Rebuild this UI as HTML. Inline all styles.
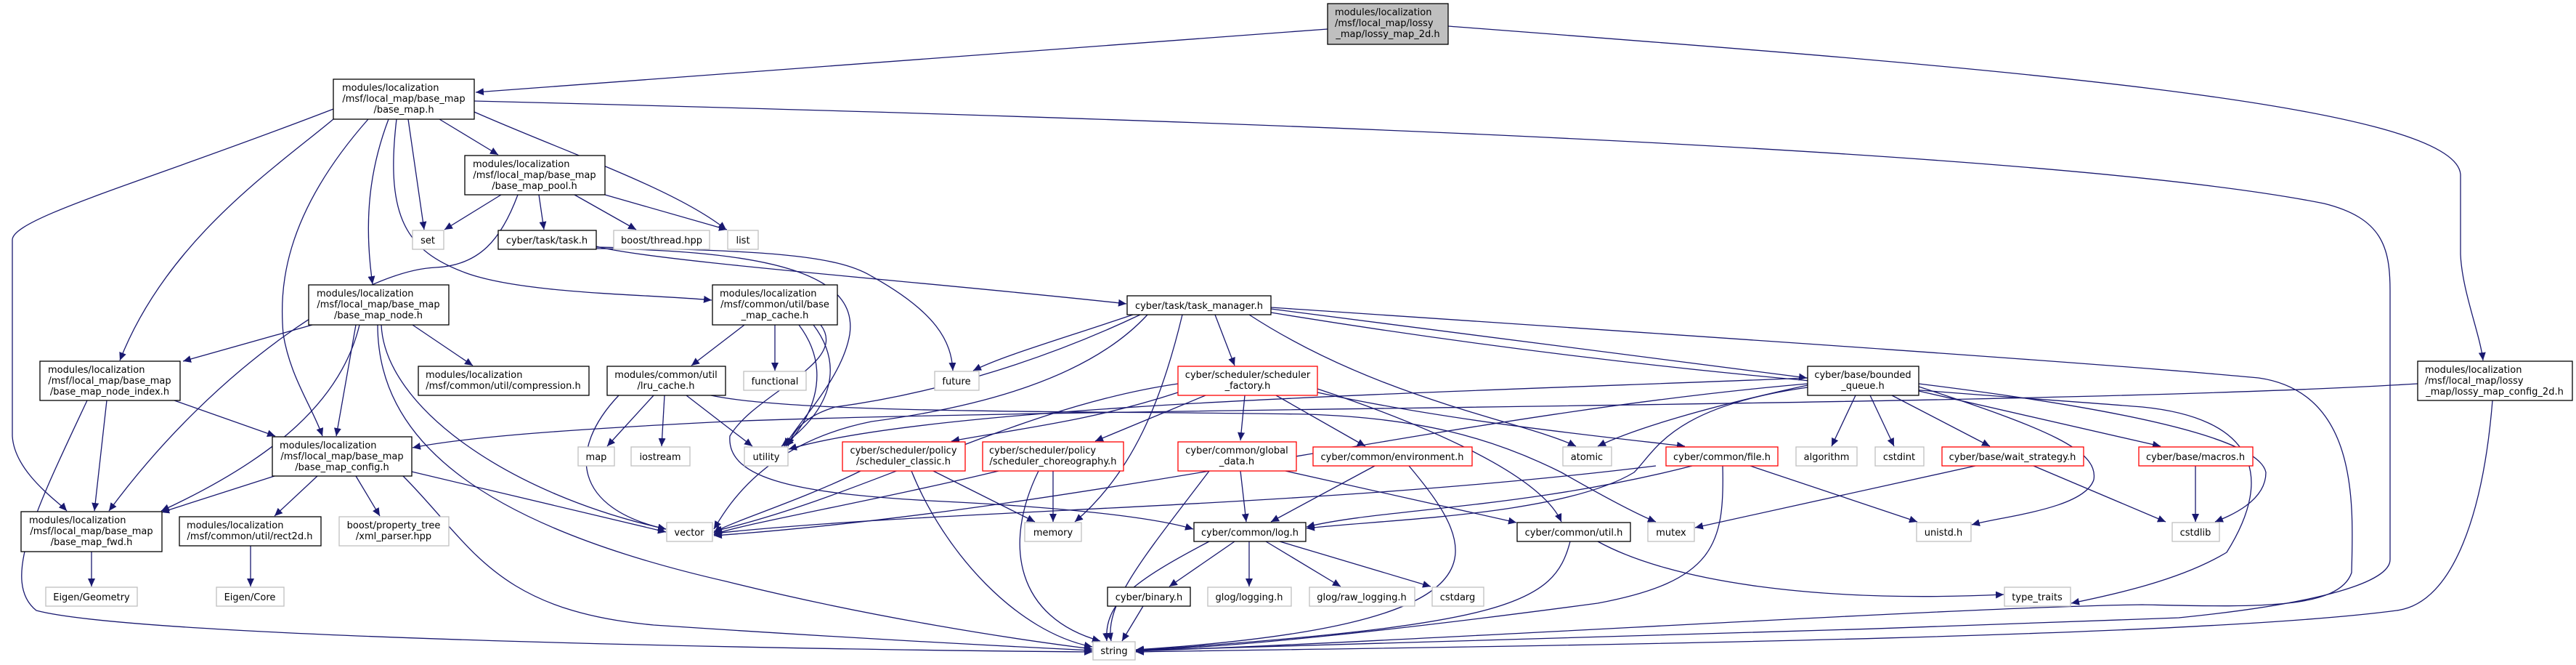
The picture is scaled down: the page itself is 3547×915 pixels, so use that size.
<!DOCTYPE html>
<html><head><meta charset="utf-8"><style>
html,body{margin:0;padding:0;background:#fff;}
svg{display:block;}
text{font-family:"DejaVu Sans","Liberation Sans",sans-serif;font-size:13px;fill:#000;}
.e{fill:none;stroke:#191970;stroke-width:1.3;}
.b{fill:#fff;stroke:#000;stroke-width:1.3;}
.g{fill:#fff;stroke:#bfbfbf;stroke-width:1.3;}
.r{fill:#fff;stroke:#ff0000;stroke-width:1.3;}
</style></head><body>
<svg width="3547" height="915" viewBox="0 0 3547 915" xmlns="http://www.w3.org/2000/svg">
<defs><marker id="a" markerUnits="userSpaceOnUse" markerWidth="12" markerHeight="10" refX="11" refY="5" orient="auto"><path d="M0,0 L11,5 L0,10 z" fill="#191970"/></marker></defs>
<g class="e" marker-end="url(#a)">
<path d="M1828,40 L655,127"/>
<path d="M1994,36 C2700,90 3380,140 3388,240 L3388,350 C3390,400 3415,460 3419,496"/>
<path d="M605,164 L686,213"/>
<path d="M562,164 L584,316"/>
<path d="M653,154 C780,210 930,260 1000,316"/>
<path d="M535,164 C510,230 500,300 513,391"/>
<path d="M546,164 C530,300 560,345 640,375 S900,405 980,413"/>
<path d="M459,164 C380,230 230,330 165,496"/>
<path d="M459,150 C200,250 17,300 17,330 L17,600 C20,650 80,690 92,703"/>
<path d="M507,164 C387,300 385,400 390,460 C400,520 430,560 444,600"/>
<path d="M653,139 C1500,160 2800,200 3200,280 C3280,300 3291,340 3291,400 L3291,770 C3291,800 3200,830 3000,850 C2500,870 1900,885 1564,895"/>
<path d="M690,268 L612,316"/>
<path d="M742,268 L749,316"/>
<path d="M791,268 L876,316"/>
<path d="M833,268 L1001,316"/>
<path d="M713,268 C690,330 660,365 600,368 C500,372 300,500 150,703"/>
<path d="M821,339 C900,360 1300,390 1551,418"/>
<path d="M821,340 C1050,345 1150,350 1200,380 C1290,430 1310,470 1312,510"/>
<path d="M821,342 C1100,345 1180,390 1170,460 C1160,520 1100,580 1080,614"/>
<path d="M430,447 L252,497"/>
<path d="M490,447 L463,600"/>
<path d="M568,447 L651,503"/>
<path d="M495,447 C470,550 380,630 222,703"/>
<path d="M525,447 C530,560 700,680 917,728"/>
<path d="M520,447 C520,600 650,720 1000,800 C1200,850 1400,880 1504,893"/>
<path d="M1025,447 L952,503"/>
<path d="M1067,447 L1067,510"/>
<path d="M1100,447 C1140,500 1130,560 1082,614"/>
<path d="M1120,447 C1160,500 1150,560 1076,614"/>
<path d="M1130,447 C1170,500 1040,540 1005,600 C1000,660 1100,680 1300,690 C1500,700 1600,715 1643,728"/>
<path d="M900,544 L836,614"/>
<path d="M915,544 L911,614"/>
<path d="M945,544 L1036,614"/>
<path d="M852,544 C780,620 790,700 917,728"/>
<path d="M979,544 C1100,570 1500,565 1800,570 C1950,575 2050,600 2150,650 C2220,690 2260,710 2280,718"/>
<path d="M1560,433 C1450,470 1380,490 1340,510"/>
<path d="M1570,433 C1450,490 1300,540 1150,560 C1100,575 1090,600 1085,614"/>
<path d="M1580,433 C1500,520 1350,560 1200,580 C1050,610 1000,700 983,728"/>
<path d="M1628,433 C1600,550 1560,650 1480,718"/>
<path d="M1673,433 L1700,503"/>
<path d="M1720,433 C1900,550 2100,580 2170,614"/>
<path d="M1750,425 L2488,520"/>
<path d="M1750,423 C2300,460 2900,500 3110,520 C3250,540 3240,700 3238,788 C3220,840 3100,835 2950,832 C2700,835 2000,880 1564,896"/>
<path d="M1750,430 C2300,520 2700,540 2950,560 C3100,575 3135,650 3066,760 C3000,800 2900,820 2852,830"/>
<path d="M1622,540 C1500,580 1400,590 1310,607"/>
<path d="M1660,544 L1508,607"/>
<path d="M1714,544 L1708,606"/>
<path d="M1757,544 L1880,614"/>
<path d="M1814,535 C1950,580 2120,650 2150,718"/>
<path d="M1814,540 C2000,580 2200,600 2320,614"/>
<path d="M1622,528 C1400,560 1200,680 983,731"/>
<path d="M1185,648 C1100,690 1000,720 983,733"/>
<path d="M1285,648 L1425,718"/>
<path d="M1255,648 C1300,760 1400,870 1504,890"/>
<path d="M1375,648 C1200,690 1000,725 983,736"/>
<path d="M1450,648 L1450,718"/>
<path d="M1430,648 C1380,750 1400,850 1515,882"/>
<path d="M1665,648 C1580,760 1520,830 1530,882"/>
<path d="M1708,648 L1716,718"/>
<path d="M1770,648 L2088,719"/>
<path d="M1893,641 L1750,718"/>
<path d="M1940,641 C2040,760 2090,860 1564,894"/>
<path d="M2280,641 C1800,700 1300,700 983,734"/>
<path d="M2330,641 C2100,700 1900,700 1799,725"/>
<path d="M2410,641 L2640,718"/>
<path d="M2372,641 C2375,750 2360,800 2200,830 C1900,870 1700,890 1564,895"/>
<path d="M2489,520 C2000,540 1300,555 1086,618"/>
<path d="M2489,528 C2000,570 1500,700 983,737"/>
<path d="M2489,530 C2350,560 2250,590 2200,614"/>
<path d="M2489,533 C2300,560 2280,620 2250,650 C2150,710 1900,715 1799,727"/>
<path d="M2555,544 L2522,614"/>
<path d="M2575,544 L2608,614"/>
<path d="M2605,544 L2740,614"/>
<path d="M2642,538 L2975,614"/>
<path d="M2642,532 C2820,590 2890,620 2883,660 C2870,700 2760,710 2715,722"/>
<path d="M2642,528 C2900,560 3110,600 3120,650 C3120,690 3070,710 3050,718"/>
<path d="M2720,641 L2334,726"/>
<path d="M2800,641 L2982,718"/>
<path d="M3023,641 L3023,718"/>
<path d="M1700,745 L1610,807"/>
<path d="M1720,745 L1720,807"/>
<path d="M1743,745 L1846,807"/>
<path d="M1762,745 L1970,807"/>
<path d="M1665,745 C1560,800 1520,830 1524,882"/>
<path d="M2162,745 C2140,830 2080,860 1564,895"/>
<path d="M2200,745 C2300,800 2500,830 2759,818"/>
<path d="M1574,834 L1545,882"/>
<path d="M3329,528 C2800,560 1500,560 1000,580 C800,590 650,600 568,616"/>
<path d="M3432,551 C3420,700 3380,830 3300,840 C3000,880 2000,890 1564,897"/>
<path d="M240,551 L379,600"/>
<path d="M147,551 L130,703"/>
<path d="M120,551 C50,700 0,800 50,840 C200,880 1200,895 1504,897"/>
<path d="M378,655 L222,705"/>
<path d="M437,655 L378,710"/>
<path d="M490,655 L523,710"/>
<path d="M567,649 L917,732"/>
<path d="M555,655 C650,750 680,840 900,860 C1200,880 1400,890 1504,895"/>
<path d="M126,759 L126,807"/>
<path d="M345,751 L345,807"/>
</g>
<rect x="1828" y="5" width="166" height="56" fill="#bfbfbf" stroke="#000" stroke-width="1.3"/>
<text x="1838" y="21">modules/localization</text><text x="1838" y="36">/msf/local_map/lossy</text><text x="1911" y="51" text-anchor="middle">_map/lossy_map_2d.h</text>
<rect class="b" x="459" y="109" width="194" height="55"/>
<text x="471" y="125">modules/localization</text><text x="556" y="140" text-anchor="middle">/msf/local_map/base_map</text><text x="556" y="155" text-anchor="middle">/base_map.h</text>
<rect class="b" x="640" y="214" width="193" height="54"/>
<text x="651" y="230">modules/localization</text><text x="736" y="245" text-anchor="middle">/msf/local_map/base_map</text><text x="736" y="260" text-anchor="middle">/base_map_pool.h</text>
<rect class="g" x="568" y="317" width="43" height="26"/><text x="589" y="335" text-anchor="middle">set</text>
<rect class="b" x="686" y="317" width="135" height="26"/><text x="753" y="335" text-anchor="middle">cyber/task/task.h</text>
<rect class="g" x="845" y="317" width="132" height="26"/><text x="911" y="335" text-anchor="middle">boost/thread.hpp</text>
<rect class="g" x="1002" y="317" width="42" height="26"/><text x="1023" y="335" text-anchor="middle">list</text>
<rect class="b" x="425" y="392" width="193" height="55"/>
<text x="436" y="408">modules/localization</text><text x="521" y="423" text-anchor="middle">/msf/local_map/base_map</text><text x="521" y="438" text-anchor="middle">/base_map_node.h</text>
<rect class="b" x="981" y="392" width="172" height="55"/>
<text x="991" y="408">modules/localization</text><text x="1067" y="423" text-anchor="middle">/msf/common/util/base</text><text x="1067" y="438" text-anchor="middle">_map_cache.h</text>
<rect class="b" x="1552" y="407" width="198" height="26"/><text x="1651" y="425" text-anchor="middle">cyber/task/task_manager.h</text>
<rect class="b" x="55" y="497" width="193" height="54"/>
<text x="66" y="513">modules/localization</text><text x="151" y="528" text-anchor="middle">/msf/local_map/base_map</text><text x="151" y="543" text-anchor="middle">/base_map_node_index.h</text>
<rect class="b" x="576" y="504" width="235" height="40"/><text x="586" y="520">modules/localization</text><text x="693" y="535" text-anchor="middle">/msf/common/util/compression.h</text>
<rect class="b" x="836" y="504" width="163" height="40"/><text x="917" y="520" text-anchor="middle">modules/common/util</text><text x="917" y="535" text-anchor="middle">/lru_cache.h</text>
<rect class="g" x="1024" y="511" width="86" height="26"/><text x="1067" y="529" text-anchor="middle">functional</text>
<rect class="g" x="1287" y="511" width="61" height="26"/><text x="1317" y="529" text-anchor="middle">future</text>
<rect class="r" x="1622" y="504" width="192" height="40"/><text x="1718" y="520" text-anchor="middle">cyber/scheduler/scheduler</text><text x="1718" y="535" text-anchor="middle">_factory.h</text>
<rect class="b" x="2489" y="504" width="153" height="40"/><text x="2565" y="520" text-anchor="middle">cyber/base/bounded</text><text x="2565" y="535" text-anchor="middle">_queue.h</text>
<rect class="b" x="3329" y="497" width="213" height="54"/>
<text x="3339" y="513">modules/localization</text><text x="3339" y="528">/msf/local_map/lossy</text><text x="3435" y="543" text-anchor="middle">_map/lossy_map_config_2d.h</text>
<rect class="b" x="375" y="601" width="192" height="54"/>
<text x="385" y="617">modules/localization</text><text x="471" y="632" text-anchor="middle">/msf/local_map/base_map</text><text x="471" y="647" text-anchor="middle">/base_map_config.h</text>
<rect class="g" x="796" y="615" width="50" height="26"/><text x="821" y="633" text-anchor="middle">map</text>
<rect class="g" x="869" y="615" width="81" height="26"/><text x="909" y="633" text-anchor="middle">iostream</text>
<rect class="g" x="1025" y="615" width="60" height="26"/><text x="1055" y="633" text-anchor="middle">utility</text>
<rect class="r" x="1160" y="608" width="169" height="40"/><text x="1244" y="624" text-anchor="middle">cyber/scheduler/policy</text><text x="1244" y="639" text-anchor="middle">/scheduler_classic.h</text>
<rect class="r" x="1353" y="608" width="194" height="40"/><text x="1362" y="624">cyber/scheduler/policy</text><text x="1450" y="639" text-anchor="middle">/scheduler_choreography.h</text>
<rect class="r" x="1622" y="608" width="163" height="40"/><text x="1703" y="624" text-anchor="middle">cyber/common/global</text><text x="1703" y="639" text-anchor="middle">_data.h</text>
<rect class="r" x="1808" y="615" width="219" height="26"/><text x="1917" y="633" text-anchor="middle">cyber/common/environment.h</text>
<rect class="g" x="2152" y="615" width="67" height="26"/><text x="2185" y="633" text-anchor="middle">atomic</text>
<rect class="r" x="2294" y="615" width="154" height="26"/><text x="2371" y="633" text-anchor="middle">cyber/common/file.h</text>
<rect class="g" x="2473" y="615" width="84" height="26"/><text x="2515" y="633" text-anchor="middle">algorithm</text>
<rect class="g" x="2582" y="615" width="67" height="26"/><text x="2615" y="633" text-anchor="middle">cstdint</text>
<rect class="r" x="2674" y="615" width="195" height="26"/><text x="2771" y="633" text-anchor="middle">cyber/base/wait_strategy.h</text>
<rect class="r" x="2945" y="615" width="157" height="26"/><text x="3023" y="633" text-anchor="middle">cyber/base/macros.h</text>
<rect class="b" x="29" y="704" width="194" height="55"/>
<text x="40" y="720">modules/localization</text><text x="126" y="735" text-anchor="middle">/msf/local_map/base_map</text><text x="126" y="750" text-anchor="middle">/base_map_fwd.h</text>
<rect class="b" x="247" y="711" width="195" height="40"/><text x="257" y="727">modules/localization</text><text x="344" y="742" text-anchor="middle">/msf/common/util/rect2d.h</text>
<rect class="g" x="467" y="711" width="151" height="40"/><text x="542" y="727" text-anchor="middle">boost/property_tree</text><text x="542" y="742" text-anchor="middle">/xml_parser.hpp</text>
<rect class="g" x="918" y="719" width="63" height="26"/><text x="949" y="737" text-anchor="middle">vector</text>
<rect class="g" x="1411" y="719" width="78" height="26"/><text x="1450" y="737" text-anchor="middle">memory</text>
<rect class="b" x="1644" y="719" width="154" height="26"/><text x="1721" y="737" text-anchor="middle">cyber/common/log.h</text>
<rect class="b" x="2089" y="719" width="156" height="26"/><text x="2167" y="737" text-anchor="middle">cyber/common/util.h</text>
<rect class="g" x="2269" y="719" width="64" height="26"/><text x="2301" y="737" text-anchor="middle">mutex</text>
<rect class="g" x="2639" y="719" width="75" height="26"/><text x="2676" y="737" text-anchor="middle">unistd.h</text>
<rect class="g" x="2991" y="719" width="65" height="26"/><text x="3023" y="737" text-anchor="middle">cstdlib</text>
<rect class="g" x="63" y="808" width="126" height="26"/><text x="126" y="826" text-anchor="middle">Eigen/Geometry</text>
<rect class="g" x="298" y="808" width="93" height="26"/><text x="344" y="826" text-anchor="middle">Eigen/Core</text>
<rect class="b" x="1525" y="808" width="114" height="26"/><text x="1582" y="826" text-anchor="middle">cyber/binary.h</text>
<rect class="g" x="1663" y="808" width="115" height="26"/><text x="1720" y="826" text-anchor="middle">glog/logging.h</text>
<rect class="g" x="1803" y="808" width="145" height="26"/><text x="1875" y="826" text-anchor="middle">glog/raw_logging.h</text>
<rect class="g" x="1972" y="808" width="71" height="26"/><text x="2007" y="826" text-anchor="middle">cstdarg</text>
<rect class="g" x="2760" y="808" width="91" height="26"/><text x="2805" y="826" text-anchor="middle">type_traits</text>
<rect class="g" x="1505" y="883" width="58" height="25"/><text x="1534" y="900" text-anchor="middle">string</text>
</svg>
</body></html>
